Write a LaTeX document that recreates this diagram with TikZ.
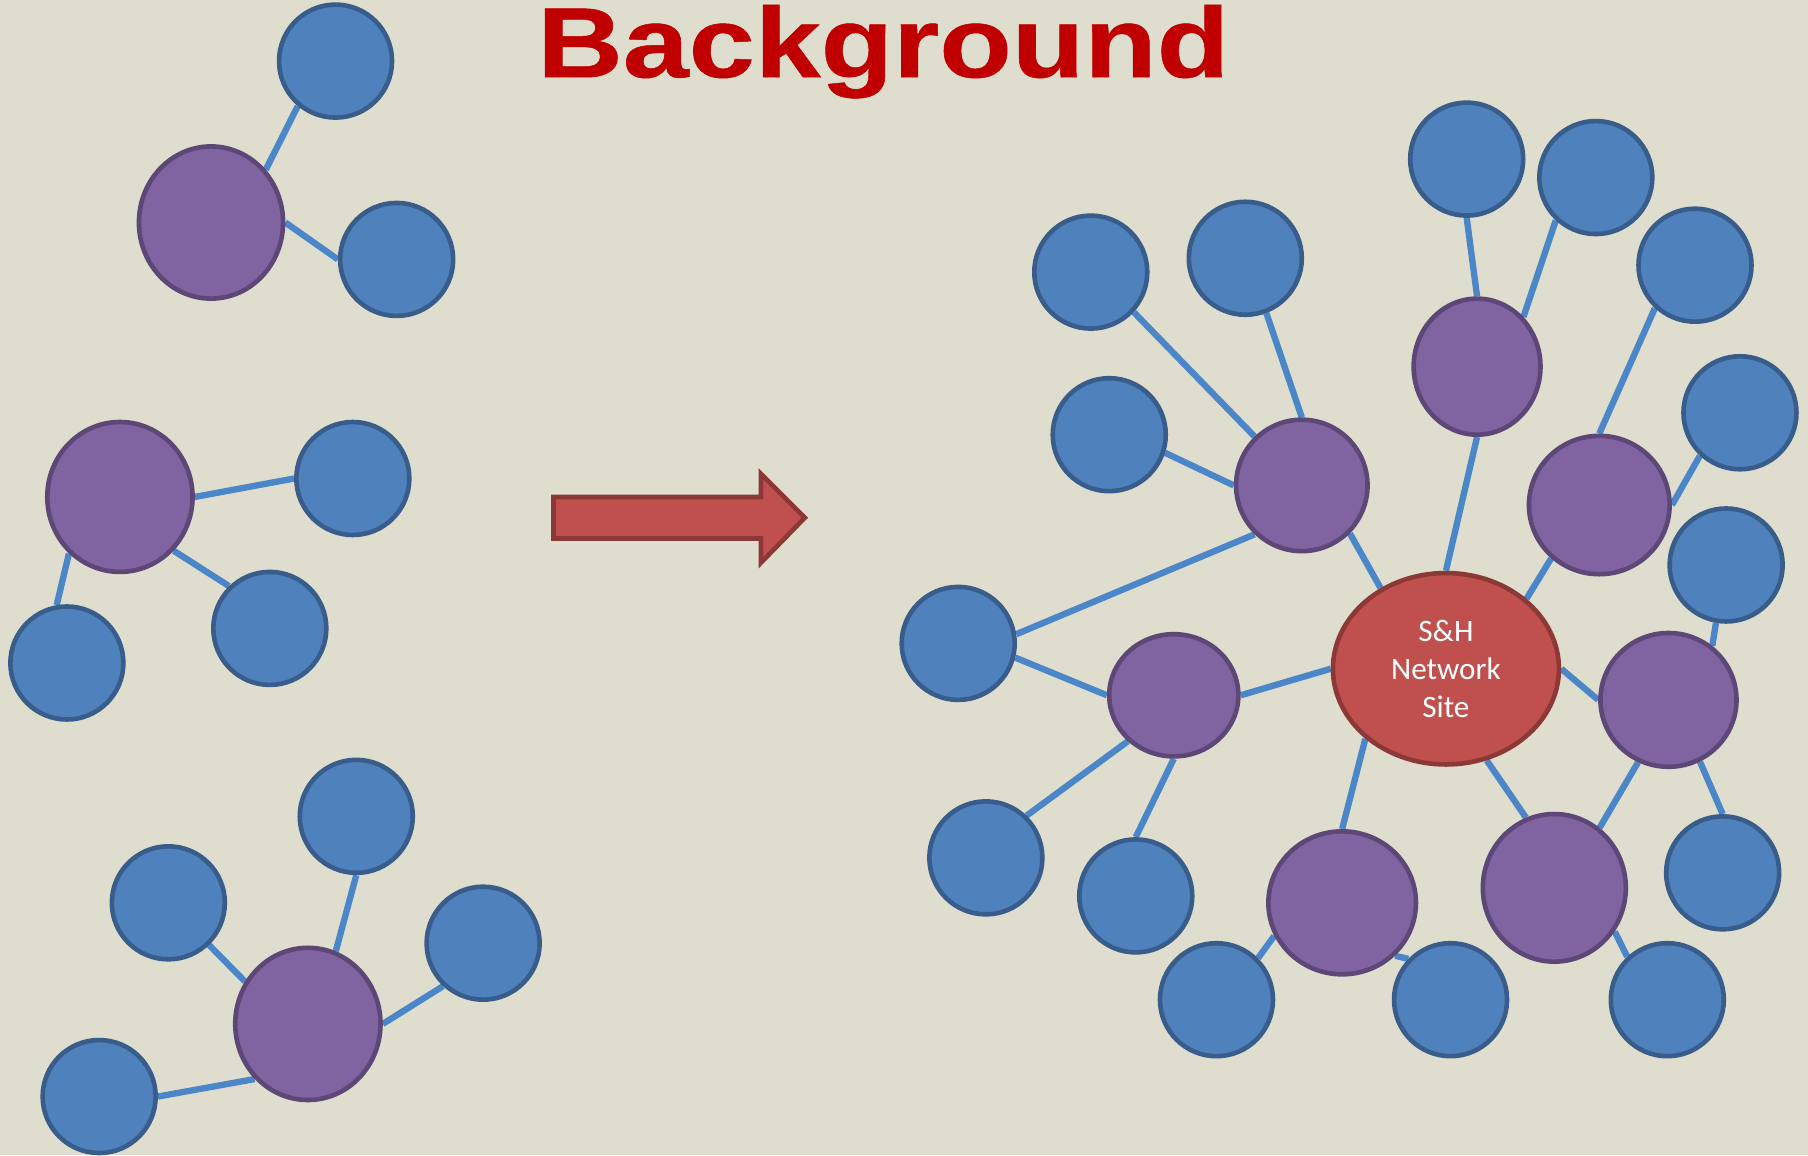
\documentclass[tikz,border=0pt]{standalone}
\usepackage{fontspec}
\setmainfont{Liberation Sans}
\newfontfamily\titlefont[BoldFeatures={FakeBold=0.5}]{Liberation Sans}
\newfontfamily\carlito{Carlito}
\usetikzlibrary{shapes.geometric,backgrounds}
\definecolor{paper}{HTML}{DFDDCE}
\definecolor{leaffill}{HTML}{4F81BD}
\definecolor{leafline}{HTML}{385D8A}
\definecolor{parentfill}{HTML}{8064A2}
\definecolor{parentline}{HTML}{5C4776}
\definecolor{sitefill}{HTML}{C0504D}
\definecolor{siteline}{HTML}{8C3836}
\definecolor{linkcol}{HTML}{4A86C8}
\definecolor{titlered}{HTML}{C00000}
\tikzset{
  leaf/.style={circle,draw=leafline,fill=leaffill,line width=0.4mm,minimum size=9.8mm,inner sep=0pt},
  parent/.style={ellipse,draw=parentline,fill=parentfill,line width=0.4mm,inner sep=0pt,minimum width=12.2mm,minimum height=12.2mm},
  link/.style={draw=linkcol,line width=0.55mm},
}
\begin{document}
\begin{tikzpicture}[x=0.1mm,y=-0.1mm]
\useasboundingbox (0,0) rectangle (1568,1002);
\node[anchor=base,text=titlered,font=\titlefont\bfseries\fontsize{24.6}{28}\selectfont,inner sep=0pt] (title) at (766,67) {\scalebox{1.19}[1]{Background}};
% left: separate groups
\node[parent,minimum width=12.5mm,minimum height=13.2mm] (pa) at (183,193) {};
\node[leaf] (ba1) at (291,53) {};
\node[leaf] (ba2) at (344,225) {};
\node[parent,minimum width=12.6mm,minimum height=13mm] (pb) at (104,431) {};
\node[leaf] (bb1) at (306,415) {};
\node[leaf] (bb2) at (234,545) {};
\node[leaf] (bb3) at (58,575) {};
\node[parent,minimum width=12.6mm,minimum height=13.2mm] (pc) at (267,888) {};
\node[leaf] (bc1) at (309,708) {};
\node[leaf] (bc2) at (146,783) {};
\node[leaf] (bc3) at (419,818) {};
\node[leaf] (bc4) at (86,951) {};
\draw[fill=sitefill,draw=siteline,line width=0.4mm] (480,431) -- (660,431) -- (660,411) -- (698,449) -- (660,488) -- (660,467) -- (480,467) -- cycle;
% right: joined network
\node[ellipse,draw=siteline,fill=sitefill,line width=0.4mm,minimum width=19.6mm,minimum height=16.6mm,inner sep=0pt,text=white,align=center,font=\carlito\fontsize{7.7}{9.4}\selectfont] (site) at (1254,580) {S\&H\\Network\\Site};
\node[parent,minimum width=11.4mm,minimum height=11.4mm] (p1) at (1129,421) {};
\node[parent,minimum width=11mm,minimum height=11.8mm] (p2) at (1281,318) {};
\node[parent,minimum width=12.2mm,minimum height=12mm] (p3) at (1387,438) {};
\node[parent,minimum width=11.2mm,minimum height=10.6mm] (p4) at (1018,603) {};
\node[parent,minimum width=11.8mm,minimum height=11.6mm] (p5) at (1447,607) {};
\node[parent,minimum width=12.8mm,minimum height=12.4mm] (p6) at (1164,783) {};
\node[parent,minimum width=12.4mm,minimum height=12.8mm] (p7) at (1348,770) {};
\node[leaf] (q1) at (946,236) {};
\node[leaf] (q2) at (1080,224) {};
\node[leaf] (q3) at (962,377) {};
\node[leaf] (q4) at (831,558) {};
\node[leaf] (q5) at (1272,138) {};
\node[leaf] (q6) at (1384,154) {};
\node[leaf] (q7) at (1470,230) {};
\node[leaf] (q8) at (1509,358) {};
\node[leaf] (q9) at (1497,490) {};
\node[leaf] (q10) at (1494,757) {};
\node[leaf] (q11) at (855,744) {};
\node[leaf] (q12) at (985,777) {};
\node[leaf] (q13) at (1055,867) {};
\node[leaf] (q14) at (1258,867) {};
\node[leaf] (q15) at (1446,867) {};
\begin{scope}[on background layer]
\fill[paper] (0,0) rectangle (1568,1002);
\foreach \a/\b in {pa.44/ba1.230,pa.0/ba2.180,
  pb.0/bb1.180,pb.315/bb2.134,pb.228/bb3.100,
  pc.69/bc1.270,pc.146/bc2.314,pc.0/bc3.227,pc.226/bc4.0,
  p1.134/q1.317,p1.90/q2.291,p1.180/q3.342,p1.226/q4.9,p1.315/site.129,
  p2.90/q5.270,p2.47/q6.227,p2.270/site.90,
  p3.90/q7.227,p3.0/q8.227,p3.228/site.41,
  p4.180/q4.346,p4.225/q11.46,p4.270/q12.90,p4.0/site.180,
  p5.180/site.0,p5.51/q9.260,p5.297/q10.90,p5.244/p7.53,
  p6.90/site.221,p6.206/q13.45,p6.315/q14.136,
  p7.112/site.294,p7.324/q15.133}
  \draw[link] (\a) -- (\b);
\end{scope}
\end{tikzpicture}
\end{document}
